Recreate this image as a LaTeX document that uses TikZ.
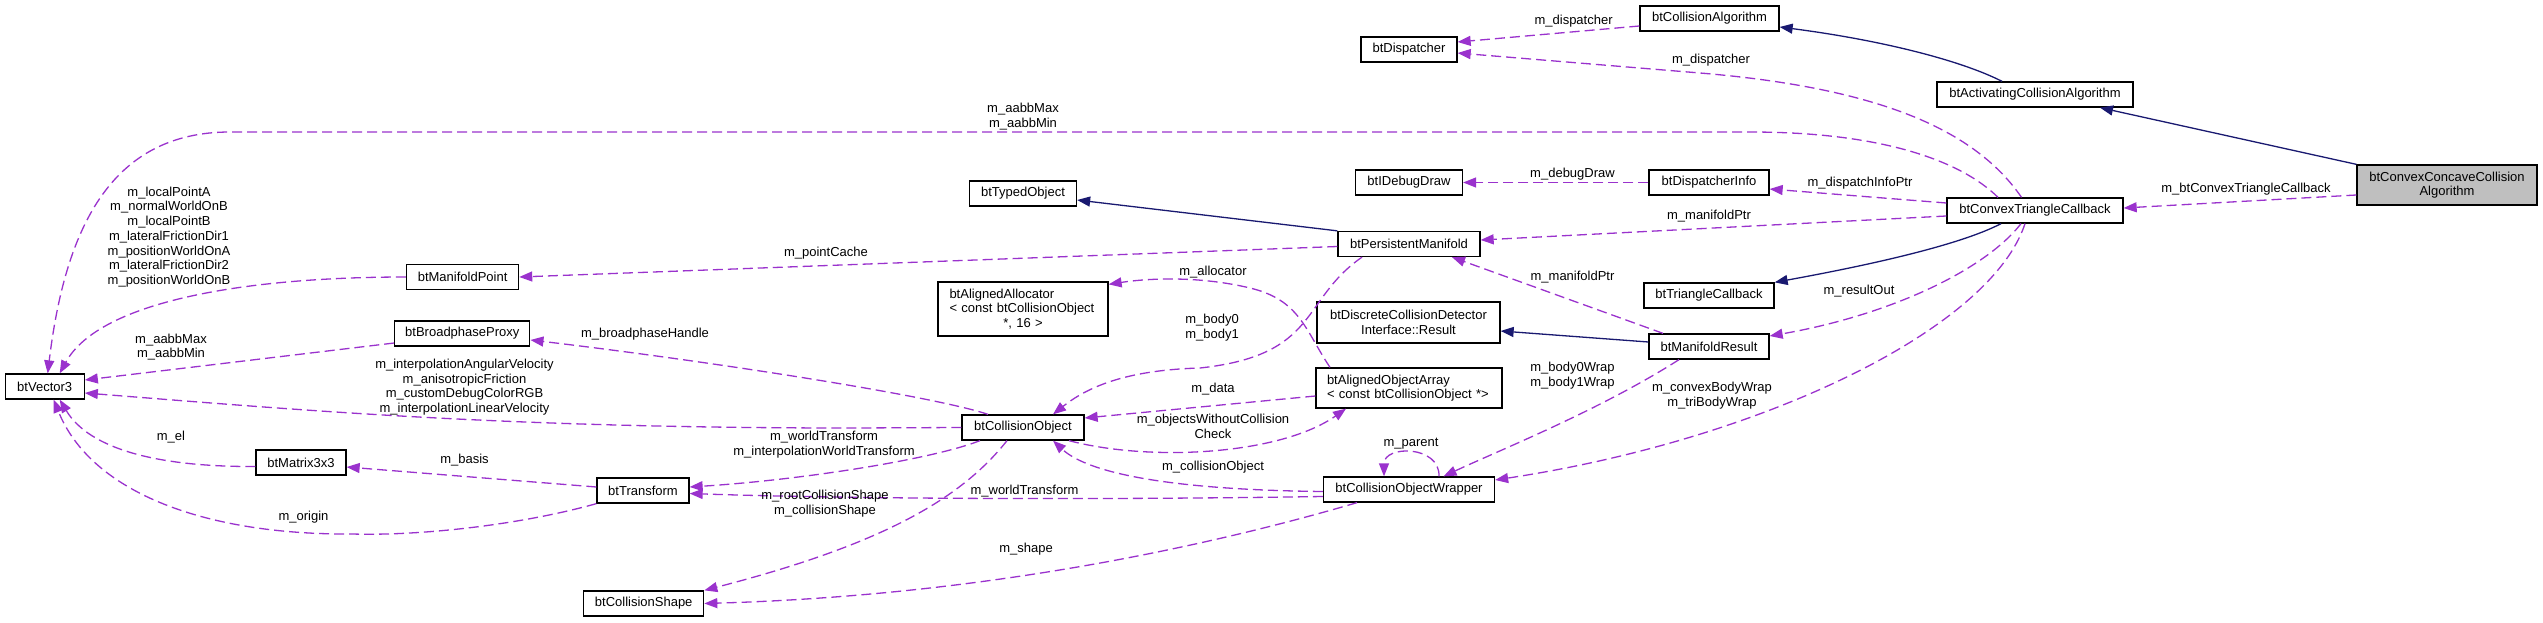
\documentclass[tikz,border=0pt]{standalone}
\usepackage{fontspec}
\setmainfont{Liberation Sans}
\usetikzlibrary{arrows.meta}
\definecolor{edgepurple}{RGB}{154,50,205}
\definecolor{edgenavy}{RGB}{25,25,112}
\definecolor{boxgray}{RGB}{191,191,191}

\begin{document}
\begin{tikzpicture}[x=1pt, y=-1pt,
    every node/.style={font=\fontsize{13}{14.7}\selectfont, inner sep=0pt},
    box/.style={draw=black, line width=1.3pt, fill=white, minimum height=25pt, align=center},
    lbl/.style={align=center},
    inh/.style={color=edgenavy, line width=1.3pt, -{Triangle[length=13pt,width=10pt]}},
    use/.style={color=edgepurple, line width=1.3pt, dash pattern=on 10pt off 5pt, -{Triangle[length=13pt,width=10pt]}}]
    \useasboundingbox (0,0) rectangle (2543,623);
    % classes
    \node[box, fill=boxgray, minimum width=180pt, minimum height=40pt] (cca) at (2447,185) {btConvexConcaveCollision\\Algorithm};
    \node[box, minimum width=196pt] (aca) at (2035,94.5) {btActivatingCollisionAlgorithm};
    \node[box, minimum width=139pt] (calg) at (1709.5,18.5) {btCollisionAlgorithm};
    \node[box, minimum width=96pt] (disp) at (1409,49.5) {btDispatcher};
    \node[box, minimum width=176pt] (ctc) at (2035,210.5) {btConvexTriangleCallback};
    \node[box, minimum width=120pt] (dinfo) at (1709,182.5) {btDispatcherInfo};
    \node[box, minimum width=107pt] (ddraw) at (1409,182.5) {btIDebugDraw};
    \node[box, minimum width=142pt] (pman) at (1409,244) {btPersistentManifold};
    \node[box, minimum width=107pt] (tobj) at (1023,193.5) {btTypedObject};
    \node[box, minimum width=130pt] (tcb) at (1709,295.5) {btTriangleCallback};
    \node[box, minimum width=120pt] (mres) at (1709,346.5) {btManifoldResult};
    \node[box, minimum width=183pt, minimum height=41pt] (dres) at (1408.5,322.5) {btDiscreteCollisionDetector\\Interface::Result};
    \node[box, minimum width=170pt, minimum height=54pt, align=left, text width=147pt] (alloc) at (1023,309)
        {btAlignedAllocator\\< const btCollisionObject\\\makebox[147pt][c]{*, 16 >}};
    \node[box, minimum width=186pt, minimum height=40pt, align=left, text width=164pt] (oarr) at (1409,388)
        {btAlignedObjectArray\\< const btCollisionObject *>};
    \node[box, minimum width=122pt] (cobj) at (1023,427.5) {btCollisionObject};
    \node[box, minimum width=171pt] (wrap) at (1409,489.5) {btCollisionObjectWrapper};
    \node[box, minimum width=112pt] (mpt) at (462.6,277) {btManifoldPoint};
    \node[box, minimum width=135pt] (bproxy) at (462.3,333.5) {btBroadphaseProxy};
    \node[box, minimum width=79pt] (vec) at (44.7,386.5) {btVector3};
    \node[box, minimum width=90pt] (mat) at (301,462.5) {btMatrix3x3};
    \node[box, minimum width=92pt] (tf) at (643,490.5) {btTransform};
    \node[box, minimum width=120pt] (cshape) at (643.7,603.5) {btCollisionShape};
    % inheritance
    \draw[inh] ([xshift=-33pt]aca.north) .. controls (1960,60) and (1880,40) .. ([yshift=-8.5pt]calg.east);
    \draw[inh] (cca.north west) -- ([xshift=65pt]aca.south);
    \draw[inh] (pman.north west) -- ([yshift=-6.5pt]tobj.east);
    \draw[inh] ([xshift=-34pt]ctc.south) .. controls (1960,245) and (1870,265) .. (tcb.north east);
    \draw[inh] ([yshift=4.5pt]mres.west) -- ([yshift=-8.5pt]dres.east);
    % members
    \draw[use] ([yshift=-10pt]cca.west) -- ([yshift=2.5pt]ctc.east);
    \draw[use] ([yshift=-7.5pt]calg.west) -- ([yshift=7.5pt]disp.east);
    \draw[use] ([xshift=-13.5pt]ctc.north) .. controls (1975,130) and (1880,88) .. (1700,73) -- ([yshift=-3.5pt]disp.east);
    \draw[use] ([xshift=-37pt]ctc.north) .. controls (1960,160) and (1880,132) .. (1750,132) -- (230,132)
        .. controls (110,132) and (65,230) .. ([xshift=3pt]vec.north);
    \draw[use] ([yshift=7.5pt]ctc.west) -- ([yshift=-6.5pt]dinfo.east);
    \draw[use] (dinfo.west) -- (ddraw.east);
    \draw[use] ([yshift=-5.5pt]ctc.west) -- ([yshift=4pt]pman.east);
    \draw[use] ([xshift=-46pt]mres.north) -- ([xshift=43pt]pman.south);
    \draw[use] ([xshift=-14pt]ctc.south) .. controls (1985,270) and (1890,315) .. ([yshift=10.5pt]mres.east);
    \draw[use] ([xshift=-10pt]ctc.south) .. controls (1990,330) and (1760,440) .. ([yshift=9.5pt]wrap.east);
    \draw[use] ([xshift=-30pt]mres.south) .. controls (1600,410) and (1500,450) .. ([xshift=34.5pt]wrap.north);
    \draw[use] ([xshift=30pt]wrap.north) .. controls (1440,445) and (1384,445) .. ([xshift=-25pt]wrap.north);
    \draw[use] ([yshift=-2.5pt]pman.west) -- (mpt.east);
    \draw[use] (mpt.west) .. controls (250,277) and (100,300) .. ([xshift=15pt]vec.north);
    \draw[use] ([xshift=-47pt]pman.south) .. controls (1300,300) and (1320,355) .. (1200,368)
        .. controls (1130,370) and (1090,385) .. ([xshift=30pt]cobj.north);
    \draw[use] ([xshift=-79pt]oarr.north) .. controls (1305,330) and (1300,300) .. (1250,288)
        .. controls (1200,276) and (1150,278) .. ([yshift=-3pt]alloc.north east);
    \draw[use] ([yshift=-8pt]oarr.west) -- ([yshift=9.5pt]cobj.east);
    \draw[use] ([xshift=46pt]cobj.south) .. controls (1150,462) and (1280,455) .. ([xshift=-63pt]oarr.south);
    \draw[use] ([yshift=-2pt]wrap.west) .. controls (1180,490) and (1090,475) .. ([xshift=30pt]cobj.south);
    \draw[use] ([yshift=-7pt]wrap.west) .. controls (1100,500) and (850,499) .. ([yshift=-3pt]tf.east);
    \draw[use] ([xshift=-52pt]wrap.south) .. controls (1230,540) and (1000,595) .. (cshape.east);
    \draw[use] ([xshift=-35pt]cobj.north) .. controls (930,395) and (700,360) .. ([yshift=-6.5pt]bproxy.east);
    \draw[use] (cobj.west) -- (850,428) .. controls (500,428) and (300,410) .. ([yshift=-6.5pt]vec.east);
    \draw[use] ([xshift=-43pt]cobj.south) .. controls (930,460) and (800,480) .. ([yshift=3.5pt]tf.east);
    \draw[use] ([xshift=-16pt]cobj.south) .. controls (960,500) and (880,545) .. (cshape.north east);
    \draw[use] ([yshift=-9.5pt]bproxy.west) -- ([yshift=6.5pt]vec.east);
    \draw[use] ([yshift=3.5pt]tf.west) -- ([yshift=-4.5pt]mat.east);
    \draw[use] ([yshift=-4pt]mat.west) .. controls (160,467) and (90,450) .. ([xshift=15pt]vec.south);
    \draw[use] (tf.south west) .. controls (520,525) and (420,536) .. (352,534)
        .. controls (200,535) and (90,490) .. ([xshift=9pt]vec.south);
    % labels
    \node[lbl] (ldisp) at (1573.6,21) {m\_dispatcher};
    \node[lbl] (ldisp2) at (1711,60) {m\_dispatcher};
    \node[lbl] (laabb) at (1023,116.5) {m\_aabbMax\\m\_aabbMin};
    \node[lbl] (ldebug) at (1572.5,174) {m\_debugDraw};
    \node[lbl] (ldinfo) at (1860,183) {m\_dispatchInfoPtr};
    \node[lbl] (lctc) at (2246,189) {m\_btConvexTriangleCallback};
    \node[lbl] (lman) at (1709,216) {m\_manifoldPtr};
    \node[lbl] (lcache) at (826,253) {m\_pointCache};
    \node[lbl] (lpoint) at (169,237) {m\_localPointA\\m\_normalWorldOnB\\m\_localPointB\\m\_lateralFrictionDir1\\m\_positionWorldOnA\\m\_lateralFrictionDir2\\m\_positionWorldOnB};
    \node[lbl] (lalloc) at (1213,272) {m\_allocator};
    \node[lbl] (lman2) at (1572.5,277) {m\_manifoldPtr};
    \node[lbl] (lres) at (1859,291) {m\_resultOut};
    \node[lbl] (lbody) at (1212,327.5) {m\_body0\\m\_body1};
    \node[lbl] (lhandle) at (645,334) {m\_broadphaseHandle};
    \node[lbl] (laabb2) at (171,347) {m\_aabbMax\\m\_aabbMin};
    \node[lbl] (linterp) at (464.5,387) {m\_interpolationAngularVelocity\\m\_anisotropicFriction\\m\_customDebugColorRGB\\m\_interpolationLinearVelocity};
    \node[lbl] (lwrap) at (1572.5,375.5) {m\_body0Wrap\\m\_body1Wrap};
    \node[lbl] (ldata) at (1213,389) {m\_data};
    \node[lbl] (lconv) at (1712,395.5) {m\_convexBodyWrap\\m\_triBodyWrap};
    \node[lbl] (lcheck) at (1213,426.5) {m\_objectsWithoutCollision\\Check};
    \node[lbl] (lel) at (171,437) {m\_el};
    \node[lbl] (lworld) at (824,444.5) {m\_worldTransform\\m\_interpolationWorldTransform};
    \node[lbl] (lparent) at (1411,444) {m\_parent};
    \node[lbl] (lbasis) at (464.5,460) {m\_basis};
    \node[lbl] (lcobj) at (1213,467) {m\_collisionObject};
    \node[lbl] (lworld2) at (1024.5,491) {m\_worldTransform};
    \node[lbl] (lshape) at (825,503.5) {m\_rootCollisionShape\\m\_collisionShape};
    \node[lbl] (lorigin) at (303.5,517) {m\_origin};
    \node[lbl] (lshape2) at (1026,549) {m\_shape};
\end{tikzpicture}
\end{document}
